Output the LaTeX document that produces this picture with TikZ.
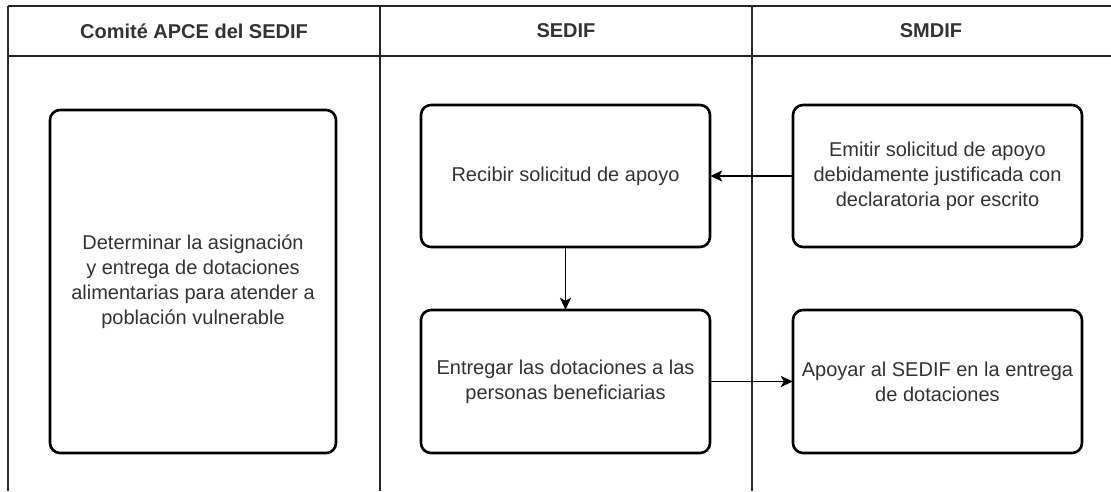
\documentclass[tikz,border=0pt]{standalone}
\usepackage{fontspec}
\setmainfont{Liberation Sans}
\usetikzlibrary{arrows.meta}
\definecolor{txt}{HTML}{333333}
\begin{document}
\begin{tikzpicture}[x=1pt,y=-1pt,
  lane/.style={draw=black!85,line width=1.6pt},
  head/.style={font=\fontsize{20}{24}\selectfont\bfseries,text=txt},
  proc/.style={draw=black,line width=2.6pt,rounded corners=10pt,fill=white},
  lbl/.style={font=\fontsize{20}{25}\selectfont,text=txt,align=center},
  flow/.style={line width=1.8pt,-{Stealth[length=12pt,width=11pt,inset=3pt]}}]
\useasboundingbox (0,0) rectangle (1111,491);
\fill[white] (0,0) rectangle (1111,491);
% swimlanes
\coordinate (tl) at (8,6);
\coordinate (tr) at (1111,6);
\coordinate (hl) at (8,56);
\coordinate (hr) at (1111,56);
\coordinate (bl) at (8,491);
\coordinate (c1t) at (380,6);
\coordinate (c1b) at (380,491);
\coordinate (c2t) at (752,6);
\coordinate (c2b) at (752,491);
\draw[lane] (tl) -- (tr);
\draw[lane] (hl) -- (hr);
\draw[lane] (tl) -- (bl);
\draw[lane] (c1t) -- (c1b);
\draw[lane] (c2t) -- (c2b);
\node[head] (h1) at (194,31) {Comité APCE del SEDIF};
\node[head] (h2) at (566,31) {SEDIF};
\node[head] (h3) at (931,31) {SMDIF};
% boxes
\draw[proc] (50,110) rectangle (336,453);
\node[lbl] (a) at (193,281.5) {Determinar la asignación\\y entrega de dotaciones\\alimentarias para atender a\\población vulnerable};
\draw[proc] (421,105) rectangle (710,247);
\node[lbl,minimum width=289pt,minimum height=142pt] (b) at (565.5,176) {Recibir solicitud de apoyo};
\draw[proc] (421,310) rectangle (710,453);
\node[lbl,minimum width=289pt,minimum height=143pt] (c) at (565.5,381.5) {Entregar las dotaciones a las\\personas beneficiarias};
\draw[proc] (793,105) rectangle (1082,247);
\node[lbl,minimum width=289pt,minimum height=142pt] (d) at (937.5,176) {Emitir solicitud de apoyo\\debidamente justificada con\\declaratoria por escrito};
\draw[proc] (793,310) rectangle (1082,453);
\node[lbl,minimum width=289pt,minimum height=143pt] (e) at (937.5,381.5) {Apoyar al SEDIF en la entrega\\de dotaciones};
% connectors
\draw[flow] (d.west) -- (b.east);
\draw[flow] (b.south) -- (c.north);
\draw[flow] (c.east) -- (e.west);
\end{tikzpicture}
\end{document}
